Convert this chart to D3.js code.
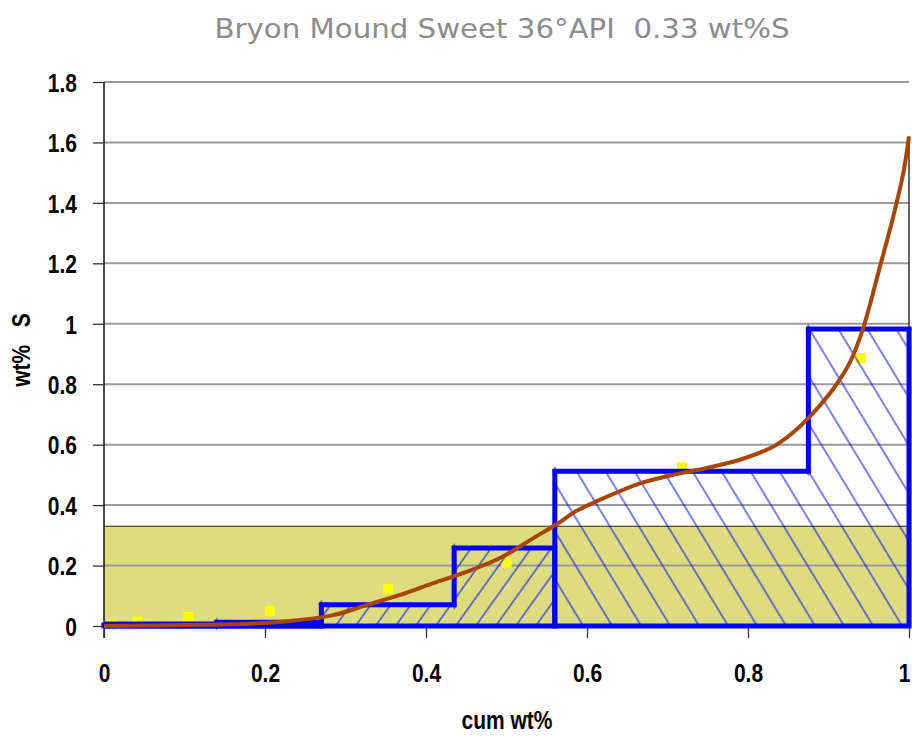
<!DOCTYPE html>
<html>
<head>
<meta charset="utf-8">
<script src="https://cdn.jsdelivr.net/npm/d3@7"></script>
<style>
  html, body { margin: 0; padding: 0; background: #fff; }
  svg { display: block; }
  text { white-space: pre; }
</style>
</head>
<body>
<div id="chart"></div>
<script>
// --- data ---
var titleText  = 'Bryon Mound Sweet 36\u00B0API  0.33 wt%S';
var xTicks     = [0, 0.2, 0.4, 0.6, 0.8, 1];
var yTicks     = [0, 0.2, 0.4, 0.6, 0.8, 1, 1.2, 1.4, 1.6, 1.8];
var bulkS      = 0.33;   // whole-crude sulfur, the shaded band

// distillation cuts: edges on cum wt%, sulfur of each cut
var binEdges   = [0, 0.14, 0.27, 0.435, 0.56, 0.875, 1.0];
var binValues  = [0.003, 0.012, 0.07, 0.258, 0.512, 0.983];
// which cuts form each outlined/hatched block
var blockA     = [0, 1];      // light ends, no hatch
var blockB     = [2, 3];      // '/' hatch
var blockC     = [4, 5];      // '\' hatch

// measured points (yellow squares)
var ptsX = [0.01, 0.042, 0.105, 0.206, 0.353, 0.50, 0.718, 0.94];
var ptsY = [0.005, 0.015, 0.03, 0.05, 0.123, 0.21, 0.525, 0.887];

// fitted sulfur curve (brown)
var curveX = [0, 0.1, 0.2, 0.243, 0.285, 0.327, 0.368, 0.409, 0.451, 0.492, 0.533, 0.57, 0.583, 0.625,
              0.666, 0.707, 0.749, 0.79, 0.831, 0.856, 0.881, 0.906, 0.927, 0.943, 0.964, 0.98, 0.993, 1.0];
var curveY = [0, 0.003, 0.01, 0.02, 0.036, 0.07, 0.103, 0.142, 0.18, 0.225, 0.29, 0.35, 0.375, 0.428,
              0.472, 0.50, 0.523, 0.55, 0.593, 0.64, 0.705, 0.785, 0.875, 0.985, 1.19, 1.35, 1.5, 1.62];

var W = 912, H = 736;
var x = d3.scaleLinear().domain([0, 1]).range([104, 909]);
var y = d3.scaleLinear().domain([0, 1.8]).range([626, 82]);
var STRETCH = 'scale(1,1.22)';

var svg = d3.select('#chart').append('svg').attr('width', W).attr('height', H);
var defs = svg.append('defs');

function hatch(id, angle, spacing) {
    var p = defs.append('pattern').attr('id', id).attr('patternUnits', 'userSpaceOnUse')
        .attr('width', spacing).attr('height', 10)
        .attr('patternTransform', 'rotate(' + angle + ')');
    p.append('line').attr('x1', 1).attr('y1', -1).attr('x2', 1).attr('y2', 11)
        .attr('stroke', '#0000ff').attr('stroke-width', 1);
}
hatch('hatchFwd', 35.5, 16.3);
hatch('hatchBack', -31.2, 24.8);

// title
svg.append('text').attr('x', 502).attr('y', 38).attr('text-anchor', 'middle')
    .attr('font-family', '"DejaVu Sans Condensed", "DejaVu Sans", sans-serif')
    .attr('font-size', 27).attr('fill', '#8c8c8c')
    .attr('textLength', 575).attr('lengthAdjust', 'spacingAndGlyphs')
    .text(titleText);

// bulk sulfur band
svg.append('rect').attr('x', x(0)).attr('y', y(bulkS))
    .attr('width', x(1) - x(0)).attr('height', y(0) - y(bulkS)).attr('fill', '#dddd80');

// grid
svg.append('g').selectAll('line').data(yTicks.filter(function(d){ return d > 0; })).join('line')
    .attr('x1', x(0)).attr('x2', x(1))
    .attr('y1', function(d){ return y(d); }).attr('y2', function(d){ return y(d); })
    .attr('stroke', '#9a9a9a').attr('stroke-width', 2);

svg.append('line').attr('x1', x(0)).attr('x2', x(1)).attr('y1', y(bulkS)).attr('y2', y(bulkS))
    .attr('stroke', '#222').attr('stroke-width', 1.2);

// right edge of the curve area
svg.append('line').attr('x1', x(1)).attr('x2', x(1)).attr('y1', y(0)).attr('y2', y(curveY[curveY.length - 1]))
    .attr('stroke', '#111').attr('stroke-width', 1.3);

// axes
var yAxis = svg.append('g').attr('transform', 'translate(' + x(0) + ',0)')
    .call(d3.axisLeft(y).tickValues(yTicks).tickSize(11).tickPadding(16).tickFormat(function(d){ return String(d); }));
var xAxis = svg.append('g').attr('transform', 'translate(0,' + y(0) + ')')
    .call(d3.axisBottom(x).tickValues(xTicks).tickSize(12).tickFormat(function(d){ return String(d); }));
[yAxis, xAxis].forEach(function(a){
    a.select('.domain').attr('stroke', '#111').attr('stroke-width', 1.5);
    a.selectAll('.tick line').attr('stroke', '#333').attr('stroke-width', 1.3);
    a.selectAll('.tick text').attr('font-family', '"Liberation Sans", Arial, sans-serif')
        .attr('font-weight', 'bold').attr('font-size', 21).attr('fill', '#000');
});
yAxis.select('.domain').attr('d', 'M0,' + y(1.8) + 'V' + (y(0) + 12));
yAxis.selectAll('.tick text').attr('dy', '0.36em').attr('transform', STRETCH);
xAxis.select('.domain').remove();
xAxis.selectAll('.tick text').attr('y', 0).attr('dy', 0).attr('transform', 'translate(0,56) ' + STRETCH)
    .filter(function(d){ return d === 1; }).attr('text-anchor', 'end').attr('x', 1);

// axis titles
svg.append('text').attr('x', 507).attr('y', 0).attr('text-anchor', 'middle')
    .attr('transform', 'translate(0,729) ' + STRETCH)
    .attr('font-family', '"Liberation Sans", Arial, sans-serif').attr('font-weight', 'bold')
    .attr('font-size', 21).text('cum wt%');
svg.append('text').attr('text-anchor', 'middle')
    .attr('transform', 'translate(30,350) rotate(-90) ' + STRETCH)
    .attr('font-family', '"Liberation Sans", Arial, sans-serif').attr('font-weight', 'bold')
    .attr('font-size', 21).text('wt%   S');

// yellow measured points
svg.append('g').selectAll('rect').data(ptsX).join('rect')
    .attr('x', function(d){ return x(d) - 5; })
    .attr('y', function(d, i){ return y(ptsY[i]) - 5; })
    .attr('width', 10).attr('height', 10).attr('fill', '#ffff00');

// gray corner markers of the cut steps
var corners = [];
binValues.forEach(function(v, i){
    corners.push([binEdges[i], v]);
    corners.push([binEdges[i + 1], v]);
});
svg.append('g').selectAll('path').data(corners).join('path')
    .attr('transform', function(d){ return 'translate(' + x(d[0]) + ',' + y(d[1]) + ')'; })
    .attr('d', d3.symbol(d3.symbolDiamond, 30))
    .attr('fill', '#7a7a7a');

// step blocks
var area = d3.area().curve(d3.curveStepAfter)
    .x(function(d){ return x(d[0]); }).y0(y(0)).y1(function(d){ return y(d[1]); });
function blockData(idx) {
    var pts = idx.map(function(i){ return [binEdges[i], binValues[i]]; });
    var last = idx[idx.length - 1];
    pts.push([binEdges[last + 1], binValues[last]]);
    return pts;
}
[[blockA, 'none'], [blockB, 'url(#hatchFwd)'], [blockC, 'url(#hatchBack)']].forEach(function(b){
    svg.append('path').datum(blockData(b[0])).attr('d', area)
        .attr('fill', b[1]).attr('stroke', '#0000ff').attr('stroke-width', 5)
        .attr('stroke-linejoin', 'miter');
});
// thick base along the light ends
svg.append('line').attr('x1', x(0)).attr('x2', x(binEdges[2])).attr('y1', y(0) - 1).attr('y2', y(0) - 1)
    .attr('stroke', '#0000ff').attr('stroke-width', 7);

// fitted curve
var line = d3.line().curve(d3.curveCatmullRom.alpha(0.5))
    .x(function(d){ return x(d); }).y(function(d, i){ return y(curveY[i]); });
svg.append('path').datum(curveX).attr('d', line)
    .attr('fill', 'none').attr('stroke', '#a84600').attr('stroke-width', 4);
</script>
</body>
</html>
